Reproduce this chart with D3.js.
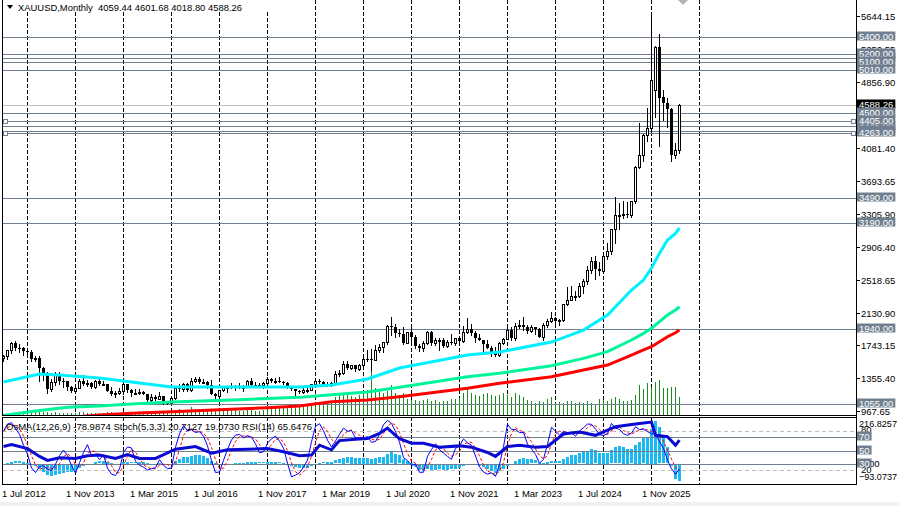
<!DOCTYPE html>
<html>
<head>
<meta charset="utf-8">
<script src="https://cdn.jsdelivr.net/npm/d3@7"></script>
<style>
  body { margin: 0; background: #fff; }
  svg { display: block; font-family: "Liberation Sans", Arial, sans-serif; font-size: 9.5px; }
  text { white-space: pre; }
</style>
</head>
<body>
<svg width="899" height="506"></svg>
<script>
// XAUUSD monthly bars, Jul 2012 .. Aug 2026
var firstMonth = new Date(2012, 6, 1);
var opens = [
  1598,1614,1687,1773,1719,1712,
  1675,1663,1578,1596,1472,1393,1234,1313,1396,1327,1323,1250,
  1202,1240,1326,1284,1295,1250,1327,1282,1287,1208,1171,1183,
  1199,1283,1213,1183,1183,1190,1172,1095,1132,1115,1142,1065,
  1061,1118,1238,1233,1293,1215,1322,1351,1309,1316,1273,1173,
  1151,1211,1249,1249,1268,1268,1242,1269,1321,1280,1271,1275,
  1303,1345,1318,1325,1315,1298,1253,1223,1201,1192,1215,1222,
  1282,1321,1313,1292,1284,1305,1409,1413,1520,1472,1513,1464,
  1517,1589,1586,1577,1687,1730,1781,1975,1967,1886,1879,1777,
  1898,1847,1734,1708,1769,1906,1770,1814,1814,1743,1783,1775,
  1829,1797,1908,1937,1897,1837,1807,1766,1711,1661,1633,1768,
  1824,1928,1826,1969,1990,1963,1919,1965,1940,1849,1983,2036,
  2063,2039,2044,2230,2286,2327,2327,2447,2503,2634,2744,2653,
  2624,2798,2858,3124,3288,3289,3303,3289,3448,3858,4003,4239,
  4315,4770,5273,4680,4617,4540,4000,4059.44];
var highs = [
  1627,1693,1787,1796,1755,1723,
  1695,1685,1617,1617,1487,1424,1348,1434,1424,1361,1325,1267,
  1279,1345,1392,1331,1315,1332,1345,1322,1288,1255,1208,1238,
  1308,1291,1224,1224,1232,1205,1174,1170,1157,1191,1143,1088,
  1123,1263,1283,1304,1304,1362,1375,1367,1352,1323,1338,1180,
  1220,1264,1262,1295,1270,1296,1274,1331,1357,1306,1299,1306,
  1366,1362,1356,1365,1326,1309,1265,1225,1214,1243,1237,1284,
  1326,1347,1324,1310,1306,1439,1453,1555,1557,1517,1516,1525,
  1611,1689,1704,1748,1765,1789,1984,2075,1992,1933,1966,1908,
  1959,1872,1756,1798,1913,1917,1833,1832,1834,1814,1877,1831,
  1853,1974,2070,1998,1910,1879,1814,1808,1735,1730,1786,1833,
  1949,1960,2009,2048,2079,1983,1987,1966,1953,2009,2052,2135,
  2079,2055,2236,2431,2450,2387,2483,2531,2685,2790,2801,2726,
  2817,2956,3128,3500,3435,3452,3439,3454,3871,4381,4245,4550,
  5640,5290,5430,4768,4670,4560,4144,4601.68];
var lows = [
  1564,1589,1659,1694,1672,1636,
  1626,1555,1562,1321,1338,1180,1208,1275,1292,1251,1221,1187,
  1202,1238,1277,1268,1240,1240,1281,1273,1205,1160,1131,1170,
  1167,1190,1142,1170,1169,1163,1077,1077,1098,1111,1052,1046,
  1061,1108,1208,1207,1200,1199,1310,1302,1305,1241,1171,1123,
  1146,1200,1195,1245,1214,1236,1204,1267,1277,1260,1264,1236,
  1302,1307,1303,1309,1282,1245,1211,1160,1180,1182,1196,1221,
  1276,1303,1281,1266,1266,1305,1382,1400,1459,1459,1445,1454,
  1517,1563,1451,1568,1670,1671,1758,1863,1849,1860,1765,1775,
  1802,1717,1677,1678,1766,1750,1751,1688,1721,1721,1758,1753,
  1780,1781,1890,1872,1787,1805,1681,1710,1615,1617,1617,1766,
  1823,1805,1809,1950,1932,1893,1903,1885,1847,1810,1965,2017,
  2002,1985,2039,2228,2277,2286,2319,2364,2471,2603,2536,2583,
  2614,2772,2832,2957,3120,3247,3268,3268,3436,3845,3931,4165,
  4275,4450,4100,4413,4333,3930,3960,4018.80];
var closes = [
  1614,1687,1773,1719,1712,1675,
  1663,1578,1596,1472,1393,1234,1313,1396,1327,1323,1250,1202,
  1240,1326,1284,1295,1250,1327,1282,1287,1208,1171,1183,1199,
  1283,1213,1183,1183,1190,1172,1095,1132,1115,1142,1065,1061,
  1118,1238,1233,1293,1215,1322,1351,1309,1316,1273,1173,1151,
  1211,1249,1249,1268,1268,1242,1269,1321,1280,1271,1275,1303,
  1345,1318,1325,1315,1298,1253,1223,1201,1192,1215,1222,1282,
  1321,1313,1292,1284,1305,1409,1413,1520,1472,1513,1464,1517,
  1589,1586,1577,1687,1730,1781,1975,1967,1886,1879,1777,1898,
  1847,1734,1708,1769,1906,1770,1814,1814,1743,1783,1775,1829,
  1797,1908,1937,1897,1837,1807,1766,1711,1661,1633,1768,1824,
  1928,1826,1969,1990,1963,1919,1965,1940,1849,1983,2036,2063,
  2039,2044,2230,2286,2327,2327,2447,2503,2634,2744,2653,2624,
  2798,2858,3124,3288,3289,3303,3289,3448,3858,4003,4239,4315,
  4886,5275,4670,4617,4540,4000,4059.44,4588.26];
// tick volume, 10k ticks
var volumes = [
  1,1,2,1,1,1,
  2,2,3,3,3,3,2,3,2,2,2,2,
  2,3,3,2,2,2,2,2,3,3,2,2,
  3,3,3,3,3,3,3,3,3,3,3,3,
  4,5,6,5,5,8,6,6,5,5,6,5,
  5,5,5,5,5,4,4,6,5,4,4,5,
  8,8,8,9,8,9,9,10,9,10,9,10,
  12,12,13,14,14,18,20,22,20,19,18,20,
  22,25,53,27,24,22,24,30,22,20,22,16,
  15,15,14,15,16,14,15,13,14,14,16,16,
  17,22,28,22,20,19,21,22,20,19,20,22,
  20,18,22,20,18,15,14,12,14,13,16,18,
  12,13,12,14,14,12,13,12,14,12,11,16,
  15,14,16,18,16,14,14,15,20,30,26,32,
  28,33,35,27,27,28,28,18];

// moving averages: [bar index, value]
var maCyan = [[0,1311],[9,1405],[14,1393],[24,1358],[32,1311],[42,1252],[57,1252],[74,1252],[82,1275],
  [91,1346],[99,1476],[116,1630],[124,1666],[137,1784],[145,1926],[151,2104],[157,2400],[160,2518],
  [162,2660],[164,2834],[166,2992],[168,3071],[169,3134]];
var maGreen = [[0,915],[2,928],[8,967],[16,1011],[24,1027],[32,1050],[42,1074],[57,1097],[66,1117],[74,1129],
  [82,1160],[91,1192],[99,1249],[116,1374],[124,1414],[137,1504],[145,1591],[151,1670],[157,1808],
  [160,1887],[162,1947],[164,2025],[166,2104],[168,2163],[169,2202]];
var maRed = [[20,905],[24,920],[32,940],[42,960],[57,988],[66,1007],[74,1027],[82,1077],[91,1097],[99,1137],
  [116,1236],[124,1295],[137,1374],[145,1453],[151,1512],[157,1630],[160,1690],[162,1729],[164,1788],
  [166,1847],[168,1894],[169,1926]];
// RSI(14): [bar index, value]
var rsiPoints = [[0,56],[2,59],[6,53],[9,41],[11,35],[14,39],[18,38],[21,42],[24,43],[28,38],[31,44],[34,38],
  [38,38],[43,52],[48,56],[52,46],[56,51],[61,52],[66,53],[70,48],[74,42],[77,43],[79,58],[82,51],[84,65],
  [88,67],[91,68],[94,76],[96,84],[98,73],[99,68],[102,61],[105,61],[109,55],[114,57],[117,55],[121,47],
  [123,41],[126,56],[129,58],[133,55],[136,56],[140,75],[144,78],[148,73],[153,86],[158,90],[162,93],
  [163,73],[166,71],[168,58],[169,65.6476]];

var levels = [5150, 5400, 5200, 5100, 5010, 4345, 4285, 4500, 4405, 4263, 3490, 3190, 1940, 1055];
var selectedLevels = [4405, 4263];
var subLevels = [70, 50, 30];
var stochLevels = [80, 20];
var priceTicks = [5644.15, 5250.55, 4856.90, 4469.15, 4081.40, 3693.65, 3305.90, 2906.40, 2518.65,
  2130.90, 1743.15, 1355.40, 967.65];
var osmaMax = 216.8257, osmaMin = -93.0737;
var timeLabels = ["1 Jul 2012", "1 Nov 2013", "1 Mar 2015", "1 Jul 2016", "1 Nov 2017", "1 Mar 2019",
  "1 Jul 2020", "1 Nov 2021", "1 Mar 2023", "1 Jul 2024", "1 Nov 2025"];
var headText = "XAUUSD,Monthly  4059.44 4601.68 4018.80 4588.26";
var subText = "OsMA(12,26,9) -78.9874 Stoch(5,3,3) 20.7127 19.0730 RSI(14) 65.6476";

var svg = d3.select("svg");
var axisX = 856, mainBot = 415, subTop = 417, subBot = 484;

var x = d3.scaleLinear().domain([0, 1]).range([3, 7]);
var y = d3.scaleLinear().domain([967.65, 5644.15]).range([411, 16]);
var yVol = d3.scaleLinear().domain([0, 60]).range([mainBot, mainBot - 60]);
var ySub = d3.scaleLinear().domain([0, 100]).range([483.5, 417.5]);
var yOsma = d3.scaleLinear().domain([osmaMin, osmaMax]).range([483.5, 417.5]);
var monthIndex = function(d) { return d3.timeMonth.count(firstMonth, d); };

// indicator series built from the bars
var stochMain = closes.map(function(c, i) {
  var num = 0, den = 0;
  for (var j = Math.max(0, i - 2); j <= i; j++) {
    var lo = d3.min(lows.slice(Math.max(0, j - 4), j + 1));
    var hi = d3.max(highs.slice(Math.max(0, j - 4), j + 1));
    num += closes[j] - lo; den += hi - lo;
  }
  return den ? 100 * num / den : 50;
});
var stochSignal = stochMain.map(function(v, i) { return d3.mean(stochMain.slice(Math.max(0, i - 2), i + 1)); });
var ema12 = [], ema26 = [];
closes.forEach(function(c, i) {
  ema12[i] = i ? ema12[i - 1] + (c - ema12[i - 1]) * 2 / 13 : c;
  ema26[i] = i ? ema26[i - 1] + (c - ema26[i - 1]) * 2 / 27 : c;
});
var macd = ema12.map(function(v, i) { return v - ema26[i]; });
var osma = macd.map(function(v, i) { return v - d3.mean(macd.slice(Math.max(0, i - 8), i + 1)); });

var defs = svg.append("defs");
defs.append("clipPath").attr("id", "clipMain").append("rect")
  .attr("x", 3).attr("y", 0).attr("width", axisX - 3).attr("height", mainBot);
defs.append("clipPath").attr("id", "clipSub").append("rect")
  .attr("x", 3).attr("y", subTop + 1).attr("width", axisX - 3).attr("height", subBot - subTop - 1);

var main = svg.append("g").attr("clip-path", "url(#clipMain)");
var sub = svg.append("g").attr("clip-path", "url(#clipSub)");

// period separators (each January)
var seps = d3.timeYear.range(new Date(2013, 0, 1), new Date(2027, 1, 1)).map(monthIndex);
[[main, 0, mainBot], [sub, subTop, subBot]].forEach(function(p) {
  p[0].append("g").selectAll("line").data(seps).enter().append("line")
    .attr("x1", function(d) { return x(d) + 0.5; }).attr("x2", function(d) { return x(d) + 0.5; })
    .attr("y1", p[1]).attr("y2", p[2])
    .attr("stroke", "#000").attr("stroke-dasharray", "4,2").attr("shape-rendering", "crispEdges");
});

// volumes
main.append("g").selectAll("line").data(volumes).enter().append("line")
  .attr("x1", function(d, i) { return x(i) + 0.5; }).attr("x2", function(d, i) { return x(i) + 0.5; })
  .attr("y1", mainBot).attr("y2", function(d) { return Math.round(yVol(d)); })
  .attr("stroke", "#1d8a1d").attr("shape-rendering", "crispEdges");

// horizontal levels
var bid = closes[closes.length - 1];
main.append("line").attr("x1", 3).attr("x2", axisX).attr("y1", Math.round(y(bid)) + 0.5)
  .attr("y2", Math.round(y(bid)) + 0.5).attr("stroke", "#c0c0c0").attr("shape-rendering", "crispEdges");
main.append("g").selectAll("line").data(levels).enter().append("line")
  .attr("x1", 3).attr("x2", axisX)
  .attr("y1", function(d) { return Math.round(y(d)) + 0.5; }).attr("y2", function(d) { return Math.round(y(d)) + 0.5; })
  .attr("stroke", "#708090").attr("shape-rendering", "crispEdges");
main.append("g").selectAll("g").data(selectedLevels).enter().append("g").each(function(d) {
  var yy = Math.round(y(d));
  [3.5, 851.5].forEach(function(xx) {
    d3.select(this).append("rect").attr("x", xx).attr("y", yy - 1.5).attr("width", 4).attr("height", 4)
      .attr("fill", "#fff").attr("stroke", "#708090").attr("shape-rendering", "crispEdges");
  }, this);
});

// candles
var bars = main.append("g").attr("shape-rendering", "crispEdges").selectAll("g").data(closes).enter().append("g");
bars.append("line")
  .attr("x1", function(d, i) { return x(i) + 0.5; }).attr("x2", function(d, i) { return x(i) + 0.5; })
  .attr("y1", function(d, i) { return Math.round(y(highs[i])); })
  .attr("y2", function(d, i) { return Math.round(y(lows[i])) + 1; })
  .attr("stroke", "#000");
bars.append("rect")
  .attr("x", function(d, i) { return d >= opens[i] ? x(i) - 0.5 : x(i) - 1; })
  .attr("y", function(d, i) { return Math.round(y(Math.max(d, opens[i]))) + (d >= opens[i] ? 0.5 : 0); })
  .attr("width", function(d, i) { return d >= opens[i] ? 2 : 3; })
  .attr("height", function(d, i) { return Math.max(1, Math.round(y(Math.min(d, opens[i]))) - Math.round(y(Math.max(d, opens[i])))); })
  .attr("fill", function(d, i) { return d >= opens[i] ? "#fff" : "#000"; })
  .attr("stroke", function(d, i) { return d >= opens[i] ? "#000" : "none"; });

// moving averages
var maLine = d3.line().x(function(d) { return x(d[0]) + 0.5; }).y(function(d) { return y(d[1]); });
[[maRed, "#ff0000"], [maGreen, "#00f59a"], [maCyan, "#00f0ff"]].forEach(function(m) {
  main.append("path").attr("d", maLine(m[0])).attr("fill", "none").attr("stroke", m[1]).attr("stroke-width", 3);
});

// sub window
sub.append("g").selectAll("rect").data(osma).enter().append("rect")
  .attr("x", function(d, i) { return x(i) - 1; }).attr("width", 3)
  .attr("y", function(d) { return Math.round(Math.min(yOsma(d), yOsma(0))); })
  .attr("height", function(d) { return Math.max(1, Math.round(Math.abs(yOsma(d) - yOsma(0)))); })
  .attr("fill", "#19b9f2").attr("shape-rendering", "crispEdges");
sub.append("g").selectAll("line").data(stochLevels).enter().append("line")
  .attr("x1", 3).attr("x2", axisX)
  .attr("y1", function(d) { return Math.round(ySub(d)) + 0.5; }).attr("y2", function(d) { return Math.round(ySub(d)) + 0.5; })
  .attr("stroke", "#c0c0c0").attr("stroke-dasharray", "4,3").attr("shape-rendering", "crispEdges");
sub.append("g").selectAll("line").data(subLevels).enter().append("line")
  .attr("x1", 3).attr("x2", axisX)
  .attr("y1", function(d) { return Math.round(ySub(d)) + 0.5; }).attr("y2", function(d) { return Math.round(ySub(d)) + 0.5; })
  .attr("stroke", "#708090").attr("stroke-width", 1.5).attr("shape-rendering", "crispEdges");
var subLine = d3.line().x(function(d, i) { return x(i) + 0.5; }).y(function(d) { return ySub(d); });
sub.append("path").attr("d", subLine(stochSignal)).attr("fill", "none")
  .attr("stroke", "#ff0000").attr("stroke-dasharray", "3,2");
sub.append("path").attr("d", subLine(stochMain)).attr("fill", "none").attr("stroke", "#0000ff");
sub.append("path").attr("d", d3.line().x(function(d) { return x(d[0]) + 0.5; }).y(function(d) { return ySub(d[1]); })(rsiPoints))
  .attr("fill", "none").attr("stroke", "#0a0ad2").attr("stroke-width", 3);

// frames
svg.append("rect").attr("x", 2.5).attr("y", -0.5).attr("width", axisX - 2).attr("height", mainBot + 0.5)
  .attr("fill", "none").attr("stroke", "#000").attr("shape-rendering", "crispEdges");
svg.append("rect").attr("x", 2.5).attr("y", subTop + 0.5).attr("width", axisX - 2).attr("height", subBot - subTop)
  .attr("fill", "none").attr("stroke", "#000").attr("shape-rendering", "crispEdges");
svg.append("rect").attr("x", 0).attr("y", 502).attr("width", 899).attr("height", 4).attr("fill", "#f0f0f0");

// header labels
svg.append("rect").attr("x", 3).attr("y", 0).attr("width", 288).attr("height", 12).attr("fill", "#fff");
svg.append("path").attr("d", "M7,5L13,5L10,9Z").attr("fill", "#000");
svg.append("text").attr("x", 18).attr("y", 10.5).attr("fill", "#000")
  .attr("textLength", 224).attr("lengthAdjust", "spacingAndGlyphs").text(headText);
svg.append("text").attr("x", 6).attr("y", 430).attr("fill", "#000")
  .attr("textLength", 306).attr("lengthAdjust", "spacingAndGlyphs").text(subText);
svg.append("path").attr("d", "M678,0L688,0L683,5Z").attr("fill", "#b4b4b4");

// price axis
var axisG = svg.append("g");
axisG.selectAll("g").data(priceTicks).enter().append("g").each(function(d) {
  var yy = Math.round(y(d));
  d3.select(this).append("line").attr("x1", axisX).attr("x2", axisX + 4).attr("y1", yy + 0.5).attr("y2", yy + 0.5)
    .attr("stroke", "#000").attr("shape-rendering", "crispEdges");
  d3.select(this).append("text").attr("x", axisX + 5).attr("y", yy + 3.5).text(d3.format(".2f")(d));
});
function boxLabel(yy, txt, bg) {
  var g = svg.append("g");
  var t = g.append("text").attr("x", axisX + 3).attr("y", yy + 2.5).attr("fill", "#fff").text(txt);
  var w = t.node().getComputedTextLength();
  g.insert("rect", "text").attr("x", axisX + 1).attr("y", yy - 5.5).attr("width", w + 4).attr("height", 9)
    .attr("fill", bg);
}
boxLabel(Math.round(y(bid)), d3.format(".2f")(bid), "#000");
levels.forEach(function(d) { boxLabel(Math.round(y(d)), d3.format(".2f")(d), "#708090"); });

// sub window axis
svg.append("text").attr("x", axisX + 3).attr("y", yOsma(osmaMax) + 9.5)
  .attr("textLength", 38).attr("lengthAdjust", "spacingAndGlyphs").text(d3.format(".4f")(osmaMax));
svg.append("text").attr("x", axisX + 5).attr("y", ySub(80) + 2.5).text("80");
svg.append("text").attr("x", axisX + 5).attr("y", yOsma(0) + 3.5).text("0.00");
svg.append("text").attr("x", axisX + 5).attr("y", ySub(20) + 2.5).text("20");
svg.append("text").attr("x", axisX + 3).attr("y", yOsma(osmaMin) - 3.5)
  .attr("textLength", 38).attr("lengthAdjust", "spacingAndGlyphs").text(d3.format(".4f")(osmaMin));
subLevels.forEach(function(d) { boxLabel(Math.round(ySub(d)), String(d), "#708090"); });
svg.append("line").attr("x1", axisX + 0.5).attr("x2", axisX + 0.5).attr("y1", 0).attr("y2", subBot + 1)
  .attr("stroke", "#000").attr("shape-rendering", "crispEdges");

// time axis
var parseLabel = d3.timeParse("%d %b %Y");
svg.append("g").selectAll("text").data(timeLabels).enter().append("text")
  .attr("x", function(d) { return x(monthIndex(parseLabel(d))) - 1; })
  .attr("y", 497).attr("fill", "#000").text(function(d) { return d; });
</script>
</body>
</html>
